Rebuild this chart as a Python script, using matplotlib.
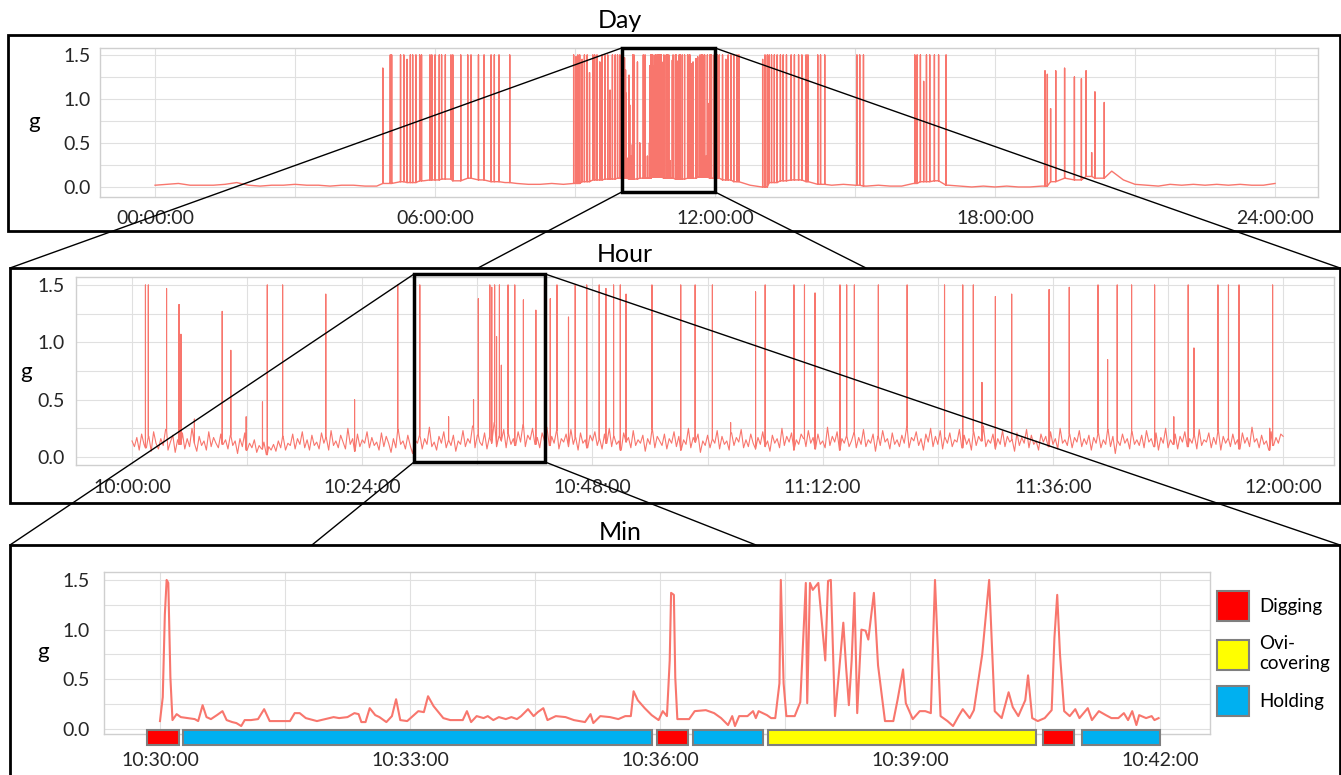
import numpy as np
import matplotlib
matplotlib.use('Agg')
import matplotlib.pyplot as plt
from matplotlib.patches import Rectangle, Patch, ConnectionPatch

plt.rcParams['font.family'] = ['Lato', 'DejaVu Sans']

# ---- data: day panel (hours after midnight) ----
day_base_hours = [i * 0.25 for i in range(97)]
day_base_g = [0.02, 0.03, 0.04, 0.02, 0.02, 0.02, 0.03, 0.05, 0.02, 0.01,
              0.02, 0.02, 0.03, 0.02, 0.02, 0.01, 0.02, 0.02, 0.01, 0.01,
              0.04, 0.06, 0.05, 0.07, 0.08, 0.09, 0.07, 0.10, 0.08, 0.06, 0.05, 0.04,
              0.03, 0.03, 0.04, 0.03, 0.04, 0.06, 0.08, 0.09,
              0.10, 0.09, 0.10, 0.11, 0.10, 0.09, 0.10, 0.11,
              0.10, 0.08, 0.06, 0.02, 0.00, 0.05, 0.07, 0.08,
              0.06, 0.03, 0.02, 0.03, 0.02, 0.01, 0.02, 0.01,
              0.01, 0.04, 0.06, 0.07, 0.02, 0.01, 0.00, 0.01,
              0.00, 0.01, 0.00, 0.00, 0.01, 0.06, 0.10, 0.08,
              0.12, 0.10, 0.18, 0.08, 0.03, 0.02, 0.01, 0.03,
              0.02, 0.03, 0.02, 0.03, 0.02, 0.03, 0.02, 0.02, 0.04]
day_spike_hours = [4.88, 5.04, 5.07, 5.26, 5.33, 5.40, 5.47, 5.52, 5.59, 5.67,
                   5.71, 5.89, 5.93, 6.00, 6.09, 6.14, 6.22, 6.34, 6.38, 6.55,
                   6.70, 6.77, 6.93, 7.05, 7.20, 7.27, 7.37, 7.60,
                   8.97, 9.02, 9.06, 9.10, 9.15, 9.20, 9.26, 9.31, 9.38, 9.42,
                   9.47, 9.53, 9.58, 9.64, 9.70, 9.75, 9.80, 9.86, 9.91, 9.96,
                   12.05, 12.09, 12.16, 12.23, 12.28, 12.34, 12.40, 12.47, 12.51,
                   13.02, 13.07, 13.12, 13.16, 13.21, 13.27, 13.33, 13.40,
                   13.46, 13.53, 13.63, 13.70, 13.79, 13.86, 13.95, 13.99,
                   14.20, 14.26, 14.35, 15.04, 15.10, 15.18,
                   16.28, 16.33, 16.40, 16.47, 16.53, 16.60, 16.70, 16.79, 16.95,
                   19.07, 19.12, 19.19, 19.30, 19.49, 19.70, 19.85, 19.95,
                   20.07, 20.14, 20.34]
day_spike_g = [1.35, 1.5, 1.5, 1.5, 1.5, 1.45, 1.5, 1.5, 1.5, 1.5,
               1.5, 1.5, 1.5, 1.5, 1.5, 1.5, 1.5, 1.5, 1.5, 1.5,
               1.5, 1.5, 1.5, 1.5, 1.5, 1.5, 1.5, 1.5,
               1.5, 1.48, 1.5, 1.5, 1.45, 1.5, 1.5, 1.3, 1.5, 1.5,
               1.5, 1.42, 1.5, 1.5, 1.5, 1.1, 1.5, 1.5, 1.5, 1.5,
               1.5, 1.5, 1.5, 1.45, 1.5, 1.5, 1.5, 1.5, 1.5,
               1.45, 1.5, 1.5, 1.5, 1.5, 1.5, 1.5, 1.5,
               1.5, 1.5, 1.5, 1.5, 1.5, 1.5, 1.5, 1.5,
               1.5, 1.5, 1.5, 1.5, 1.5, 1.5,
               1.5, 1.5, 1.5, 1.2, 1.5, 1.5, 1.5, 1.5, 1.5,
               1.32, 1.28, 0.89, 1.32, 1.35, 1.25, 1.23, 1.32,
               0.39, 1.08, 0.96]
day_ticks = [0, 6, 12, 18, 24]
day_tick_labels = ['00:00:00', '06:00:00', '12:00:00', '18:00:00', '24:00:00']

# ---- data: hour panel (minutes after 10:00:00) ----
hour_base_min = [i * 0.25 for i in range(481)]
hour_base_g = [
    0.14, 0.09, 0.17, 0.06, 0.20, 0.11, 0.08, 0.18, 0.05, 0.22, 0.12, 0.07, 0.16, 0.10, 0.24, 0.06, 0.13, 0.19, 0.04, 0.15,
    0.11, 0.21, 0.07, 0.16, 0.09, 0.25, 0.12, 0.05, 0.18, 0.10, 0.14, 0.06, 0.22, 0.09, 0.17, 0.12, 0.08, 0.20, 0.11, 0.15,
    0.07, 0.19, 0.10, 0.14, 0.03, 0.16, 0.09, 0.21, 0.06, 0.12, 0.08, 0.15, 0.04, 0.10, 0.07, 0.13, 0.02, 0.09, 0.06, 0.11,
    0.05, 0.14, 0.08, 0.18, 0.06, 0.12, 0.10, 0.20, 0.07, 0.16, 0.11, 0.22, 0.08, 0.15, 0.06, 0.19, 0.10, 0.13, 0.07, 0.21,
    0.12, 0.17, 0.06, 0.23, 0.10, 0.14, 0.08, 0.19, 0.13, 0.07, 0.25, 0.11, 0.16, 0.05, 0.20, 0.09, 0.15, 0.12, 0.22, 0.08,
    0.17, 0.10, 0.13, 0.06, 0.21, 0.09, 0.18, 0.12, 0.04, 0.16, 0.08, 0.24, 0.11, 0.14, 0.07, 0.19, 0.10, 0.03, 0.15, 0.12,
    0.20, 0.07, 0.16, 0.11, 0.26, 0.09, 0.13, 0.06, 0.18, 0.12, 0.22, 0.08, 0.15, 0.10, 0.19, 0.05, 0.14, 0.11, 0.23, 0.09,
    0.16, 0.12, 0.27, 0.08, 0.19, 0.13, 0.10, 0.21, 0.07, 0.17, 0.12, 0.30, 0.09, 0.18, 0.14, 0.24, 0.08, 0.20, 0.11, 0.16,
    0.10, 0.22, 0.13, 0.28, 0.09, 0.19, 0.15, 0.25, 0.11, 0.17, 0.08, 0.21, 0.14, 0.26, 0.10, 0.18, 0.12, 0.23, 0.07, 0.16,
    0.13, 0.20, 0.09, 0.24, 0.11, 0.17, 0.06, 0.21, 0.12, 0.15, 0.08, 0.19, 0.14, 0.22, 0.10, 0.16, 0.07, 0.20, 0.12, 0.25,
    0.09, 0.18, 0.11, 0.14, 0.06, 0.21, 0.13, 0.17, 0.08, 0.23, 0.10, 0.15, 0.12, 0.19, 0.05, 0.16, 0.11, 0.24, 0.08, 0.18,
    0.14, 0.10, 0.20, 0.07, 0.16, 0.12, 0.22, 0.09, 0.18, 0.06, 0.15, 0.11, 0.25, 0.08, 0.17, 0.13, 0.20, 0.04, 0.14, 0.10,
    0.19, 0.08, 0.16, 0.12, 0.23, 0.07, 0.18, 0.11, 0.14, 0.06, 0.21, 0.10, 0.17, 0.13, 0.24, 0.08, 0.15, 0.09, 0.20, 0.12,
    0.07, 0.17, 0.11, 0.22, 0.09, 0.14, 0.05, 0.19, 0.12, 0.16, 0.08, 0.25, 0.10, 0.18, 0.13, 0.21, 0.06, 0.15, 0.11, 0.20,
    0.16, 0.09, 0.23, 0.12, 0.17, 0.07, 0.20, 0.11, 0.14, 0.08, 0.26, 0.10, 0.18, 0.13, 0.22, 0.06, 0.16, 0.12, 0.19, 0.09,
    0.14, 0.21, 0.08, 0.17, 0.11, 0.24, 0.09, 0.15, 0.12, 0.20, 0.05, 0.18, 0.10, 0.23, 0.13, 0.16, 0.07, 0.21, 0.11, 0.15,
    0.09, 0.19, 0.12, 0.26, 0.08, 0.17, 0.14, 0.22, 0.10, 0.16, 0.06, 0.20, 0.13, 0.25, 0.09, 0.18, 0.11, 0.23, 0.07, 0.17,
    0.12, 0.21, 0.09, 0.15, 0.13, 0.24, 0.08, 0.19, 0.11, 0.16, 0.06, 0.22, 0.10, 0.18, 0.14, 0.27, 0.09, 0.15, 0.12, 0.20,
    0.07, 0.16, 0.11, 0.23, 0.09, 0.18, 0.13, 0.15, 0.05, 0.21, 0.10, 0.17, 0.12, 0.24, 0.08, 0.19, 0.11, 0.14, 0.06, 0.20,
    0.13, 0.18, 0.09, 0.22, 0.11, 0.16, 0.07, 0.25, 0.12, 0.15, 0.10, 0.20, 0.08, 0.17, 0.13, 0.23, 0.09, 0.16, 0.11, 0.19,
    0.06, 0.17, 0.12, 0.21, 0.08, 0.15, 0.11, 0.24, 0.09, 0.18, 0.03, 0.14, 0.10, 0.20, 0.12, 0.16, 0.07, 0.22, 0.11, 0.15,
    0.10, 0.19, 0.08, 0.23, 0.13, 0.16, 0.09, 0.21, 0.06, 0.17, 0.12, 0.25, 0.08, 0.15, 0.11, 0.20, 0.07, 0.18, 0.13, 0.22,
    0.09, 0.16, 0.12, 0.19, 0.07, 0.24, 0.10, 0.15, 0.13, 0.21, 0.08, 0.17, 0.11, 0.23, 0.06, 0.18, 0.12, 0.16, 0.09, 0.20,
    0.11, 0.15, 0.07, 0.21, 0.12, 0.17, 0.09, 0.26, 0.13, 0.16, 0.08, 0.19, 0.11, 0.14, 0.06, 0.22, 0.10, 0.17, 0.12, 0.20,
    0.18]
hour_spike_min = [1.4, 1.7, 3.6, 4.9, 5.1, 6.5, 9.4, 10.3, 11.9, 13.6,
                  14.1, 15.7, 20.2, 23.2, 27.7, 30.0, 33.0, 35.6, 36.1, 37.3,
                  37.5, 37.8, 38.0, 38.3, 38.5, 39.2, 39.9, 40.8, 42.1, 43.0,
                  43.6, 44.3, 45.5, 46.2, 47.4, 48.7, 49.4, 50.2, 50.9, 51.5,
                  54.2, 57.2, 58.7, 60.5, 62.4, 65.0, 66.0, 69.0, 70.1, 71.2,
                  73.8, 74.5, 75.3, 77.8, 80.8, 84.7, 86.6, 87.7, 88.6, 90.0,
                  91.7, 95.6, 97.7, 100.7, 101.7, 102.7, 104.2, 106.6, 108.6, 110.1,
                  110.7, 113.2, 114.3, 115.4, 118.6, 118.9]
hour_spike_g = [1.5, 1.5, 1.47, 1.33, 1.07, 0.33, 1.27, 0.93, 0.35, 0.48,
                1.5, 1.5, 1.42, 0.5, 1.5, 1.5, 0.35, 0.5, 1.38, 1.5,
                1.48, 1.5, 1.05, 1.5, 0.8, 1.5, 1.5, 1.37, 1.28, 1.5,
                1.38, 1.5, 1.22, 1.5, 1.5, 1.5, 1.47, 1.5, 1.5, 1.42,
                1.5, 1.5, 1.5, 1.5, 0.3, 1.44, 1.5, 1.5, 1.5, 1.43,
                1.5, 1.5, 1.5, 1.5, 1.5, 1.5, 1.5, 1.5, 0.65, 1.4,
                1.42, 1.46, 1.48, 1.5, 0.85, 1.5, 1.5, 1.5, 0.35, 1.5,
                0.95, 1.5, 1.5, 1.5, 0.25, 1.5]
hour_ticks = [0, 24, 48, 72, 96, 120]
hour_tick_labels = ['10:00:00', '10:24:00', '10:48:00', '11:12:00', '11:36:00', '12:00:00']

# ---- data: min panel (seconds after 10:30:00) ----
min_secs = [0, 2, 3.5, 4.8, 6, 7.5, 9, 12, 15, 20,
            25, 27.5, 30.7, 33.5, 36.7, 41, 45, 48, 52, 55,
            58.5, 61, 65.5, 70.6, 75, 79, 87, 93.6, 97, 100.6,
            105, 113, 119, 125, 129, 135, 140, 143, 145, 148,
            151, 155, 158, 163, 167, 170, 173, 178, 182, 186,
            190, 193, 197, 204, 209, 213, 218, 221, 224, 228,
            233, 236, 240, 244, 249, 253, 257, 260, 265, 269,
            272, 276, 279, 285, 292, 298, 306, 310, 312, 317,
            324, 330, 335, 339, 341, 344, 349, 354, 359, 362,
            365, 367, 368, 370, 371, 372.5, 374, 381, 385, 393,
            399, 404, 409, 412, 414, 417, 423, 427, 429, 431,
            437, 440, 443, 446, 447, 449, 451, 457, 461, 465,
            466, 468, 470, 474, 479, 481, 483, 486, 489, 492,
            494, 496, 498, 500, 502, 505, 508, 510, 514, 517,
            522, 528, 531, 535, 537, 542, 547, 551, 555, 558,
            562, 567, 571, 575, 578, 583, 586, 592, 597, 601,
            606, 611, 614, 618, 623, 625, 628, 632, 637, 642,
            644, 646, 648, 651, 655, 659, 662, 668, 671, 676,
            681, 685, 690, 694, 697, 700, 703, 705, 710, 714,
            716, 719]
min_g = [0.08, 0.32, 1.15, 1.5, 1.47, 0.52, 0.09, 0.15, 0.12, 0.11,
         0.10, 0.08, 0.24, 0.12, 0.10, 0.14, 0.18, 0.09, 0.07, 0.06,
         0.03, 0.09, 0.09, 0.10, 0.20, 0.08, 0.08, 0.08, 0.16, 0.16,
         0.11, 0.08, 0.10, 0.12, 0.11, 0.12, 0.16, 0.15, 0.07, 0.07,
         0.21, 0.14, 0.12, 0.07, 0.13, 0.30, 0.09, 0.08, 0.13, 0.18,
         0.17, 0.33, 0.23, 0.11, 0.09, 0.09, 0.09, 0.18, 0.07, 0.13,
         0.11, 0.13, 0.09, 0.12, 0.10, 0.12, 0.10, 0.13, 0.20, 0.13,
         0.17, 0.21, 0.09, 0.13, 0.12, 0.09, 0.07, 0.15, 0.06, 0.13,
         0.12, 0.10, 0.13, 0.13, 0.38, 0.29, 0.21, 0.14, 0.09, 0.18,
         0.13, 0.69, 1.37, 1.35, 0.52, 0.10, 0.10, 0.10, 0.18, 0.19,
         0.16, 0.11, 0.04, 0.13, 0.03, 0.13, 0.13, 0.18, 0.11, 0.18,
         0.14, 0.11, 0.11, 0.46, 1.50, 0.46, 0.13, 0.13, 0.27, 1.47,
         0.26, 1.47, 1.40, 1.47, 0.69, 1.49, 1.50, 0.13, 0.59, 1.07,
         0.62, 0.24, 0.69, 1.37, 0.16, 1.00, 0.99, 0.90, 1.37, 0.64,
         0.08, 0.08, 0.29, 0.60, 0.26, 0.10, 0.18, 0.18, 0.16, 1.50,
         0.13, 0.08, 0.03, 0.13, 0.20, 0.11, 0.19, 0.75, 1.50, 0.18,
         0.11, 0.37, 0.22, 0.13, 0.29, 0.54, 0.11, 0.08, 0.11, 0.19,
         0.92, 1.35, 0.75, 0.18, 0.13, 0.20, 0.11, 0.21, 0.09, 0.18,
         0.14, 0.11, 0.11, 0.16, 0.09, 0.18, 0.04, 0.14, 0.11, 0.13,
         0.09, 0.11]
min_ticks = [0, 180, 360, 540, 720]
min_tick_labels = ['10:30:00', '10:33:00', '10:36:00', '10:39:00', '10:42:00']

behav_start = [-9.4, 16.6, 358, 384, 438, 636, 664]
behav_end = [13.7, 354, 380, 434, 631, 658, 720]
behav_kind = ['Digging', 'Holding', 'Digging', 'Holding', 'Ovi-covering', 'Digging', 'Holding']
behav_names = ['Digging', 'Ovi-covering', 'Holding']
behav_labels = ['Digging', 'Ovi-\ncovering', 'Holding']
behav_colors = {'Digging': '#ff0000', 'Ovi-covering': '#ffff00', 'Holding': '#00b0f0'}

g_ticks = [0.0, 0.5, 1.0, 1.5]
g_tick_labels = ['0.0', '0.5', '1.0', '1.5']

# ---- layout ----
W, H = 1341, 775
LINE = '#f8766d'
EDGE = '#7f7f7f'


def fpt(x, y):
    return (x / W, 1 - y / H)


def rect(left, top, right, bottom):
    return [left / W, 1 - bottom / H, (right - left) / W, (bottom - top) / H]


def spiky(base_t, base_g, spike_t, spike_g):
    bt = np.asarray(base_t, float)
    t, g = list(base_t), list(base_g)
    for st, sg in zip(spike_t, spike_g):
        foot = base_g[int(np.abs(bt - st).argmin())]
        t += [st, st, st]
        g += [foot, sg, foot]
    order = np.argsort(t, kind='stable')
    return np.array(t)[order], np.array(g)[order]


def style(ax, ticks, labels, minor_step, xlim, ylim, xpad, ypad):
    ax.set_xlim(*xlim)
    ax.set_ylim(*ylim)
    ax.set_xticks(ticks)
    ax.set_xticklabels(labels)
    ax.set_xticks(np.arange(ticks[0], ticks[-1] + 0.01, minor_step), minor=True)
    ax.set_yticks(g_ticks)
    ax.set_yticklabels(g_tick_labels)
    ax.set_yticks([0.25, 0.75, 1.25], minor=True)
    ax.grid(True, which='both', color='#e0e0e0', lw=0.8)
    ax.set_axisbelow(True)
    ax.tick_params(which='both', length=0, labelsize=14, labelcolor='#262626')
    ax.tick_params(axis='x', pad=xpad)
    ax.tick_params(axis='y', pad=ypad)
    for s in ax.spines.values():
        s.set_color('#cfcfcf')
        s.set_linewidth(1.0)


fig = plt.figure(figsize=(W / 100, H / 100), dpi=100)

# Day
ax_d = fig.add_axes(rect(100, 48, 1318, 197))
t, g = spiky(day_base_hours, day_base_g,
             day_spike_hours + [10 + m / 60 for m in hour_spike_min],
             day_spike_g + hour_spike_g)
ax_d.plot(t, g, color=LINE, lw=1.0)
style(ax_d, day_ticks, day_tick_labels, 3, (-1.18, 24.92), (-0.114, 1.58), 9, 7)

# Hour
ax_h = fig.add_axes(rect(76, 277, 1334, 465))
t, g = spiky(hour_base_min, hour_base_g, hour_spike_min, hour_spike_g)
ax_h.plot(t, g, color=LINE, lw=0.8)
style(ax_h, hour_ticks, hour_tick_labels, 12, (-5.84, 125.3), (-0.07, 1.57), 10, 8)

# Min
ax_m = fig.add_axes(rect(104, 572, 1210, 734))
ax_m.plot(min_secs, min_g, color=LINE, lw=1.5, zorder=3)
style(ax_m, min_ticks, min_tick_labels, 90, (-40.3, 756), (-0.05, 1.58), 13, 10)
for s0, s1, k in zip(behav_start, behav_end, behav_kind):
    ax_m.barh(-0.085, s1 - s0, left=s0, height=0.15, color=behav_colors[k],
              edgecolor=EDGE, lw=1.5, clip_on=False, zorder=4)

handles = [Patch(facecolor=behav_colors[n], edgecolor=EDGE, lw=1.5) for n in behav_names]
fig.legend(handles, behav_labels, loc='upper left', bbox_to_anchor=fpt(1217, 591),
           frameon=False, fontsize=13.5, handlelength=1.7, handleheight=2.1,
           handletextpad=0.55, labelspacing=0.75, borderpad=0, borderaxespad=0)

# zoom boxes
ax_d.add_patch(Rectangle((10, -0.057), 2, 1.58 + 0.057, fill=False, ec='black',
                         lw=2.5, clip_on=False, zorder=5))
ax_h.add_patch(Rectangle((29.4, -0.044), 43.07 - 29.4, 1.596 + 0.044, fill=False,
                         ec='black', lw=2.5, clip_on=False, zorder=5))

# connector lines
links = [(ax_d, (10, 1.58), (10, 268)), (ax_d, (12, 1.58), (1340, 268)),
         (ax_d, (10, -0.057), (478, 268)), (ax_d, (12, -0.057), (866, 268)),
         (ax_h, (29.4, 1.596), (10, 545)), (ax_h, (43.07, 1.596), (1340, 545)),
         (ax_h, (29.4, -0.044), (312, 545)), (ax_h, (43.07, -0.044), (756, 545))]
for ax, a, b in links:
    fig.add_artist(ConnectionPatch(xyA=a, coordsA=ax.transData, xyB=fpt(*b),
                                   coordsB=fig.transFigure, color='black', lw=1.0, zorder=6))

# panel frames
for top, bottom, left in [(35, 231, 8), (268, 503, 10), (545, 780, 10)]:
    x0, y0 = fpt(left, bottom)
    fig.add_artist(Rectangle((x0, y0), (1340 - left) / W, (bottom - top) / H,
                             transform=fig.transFigure, fill=False, ec='black', lw=2, zorder=6))

for txt, x, y in [('Day', 620, 20), ('Hour', 625, 255), ('Min', 620, 532)]:
    fig.text(*fpt(x, y), txt, ha='center', va='center', fontsize=18)
for x, y in [(34, 122), (26, 372), (43, 652)]:
    fig.text(*fpt(x, y), 'g', ha='center', va='center', fontsize=16)

fig.savefig('out.png', dpi=100)
